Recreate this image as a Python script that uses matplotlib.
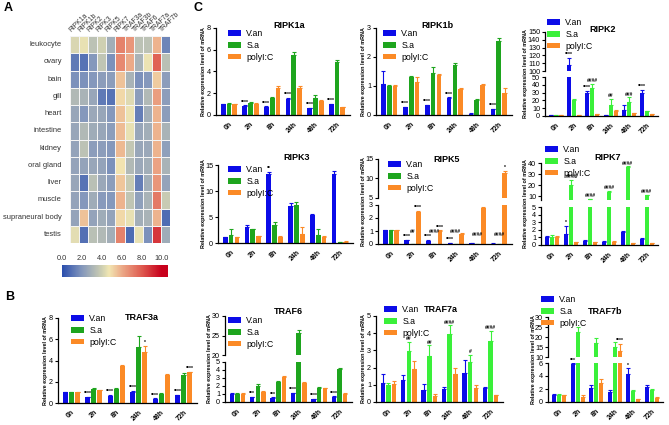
import numpy as np
import matplotlib
matplotlib.use('Agg')
import matplotlib.pyplot as plt
from matplotlib.colors import LinearSegmentedColormap
from matplotlib.patches import Patch

plt.rcParams['font.family'] = ['Liberation Sans', 'DejaVu Sans']

# ---------------- data ----------------
tissues = ['leukocyte', 'ovary', 'bain', 'gill', 'heart', 'intestine', 'kidney',
           'oral gland', 'liver', 'muscle', 'supraneural body', 'testis']
genes = ['RIPK1a', 'RIPK1b', 'RIPK2', 'RIPK3', 'RIPK5', 'RIPK7',
         'TRAF3a', 'TRAF3b', 'TRAF6', 'TRAF7a', 'TRAF7b']
heat_values = [
    [4.2, 4.5, 3.5, 4.0, 2.8, 7.0, 6.5, 3.5, 3.5, 5.8, 1.5],
    [1.2, 1.0, 2.0, 3.6, 1.8, 6.8, 6.0, 3.0, 4.6, 7.8, 3.4],
    [1.8, 1.8, 2.0, 2.2, 2.2, 5.5, 3.0, 1.8, 2.0, 5.3, 2.2],
    [3.2, 3.0, 2.5, 1.2, 1.0, 5.0, 4.3, 2.2, 3.2, 6.3, 2.2],
    [2.5, 2.0, 2.6, 2.5, 2.0, 5.5, 4.6, 1.3, 2.8, 5.8, 2.2],
    [2.5, 3.2, 2.7, 2.5, 2.2, 5.6, 4.5, 2.5, 2.8, 5.8, 3.0],
    [2.4, 3.5, 2.2, 2.2, 2.0, 5.7, 3.7, 2.5, 2.6, 5.8, 2.3],
    [2.4, 2.4, 2.5, 2.4, 1.8, 4.8, 3.2, 2.6, 2.8, 6.2, 3.0],
    [2.5, 1.0, 3.4, 2.6, 2.2, 5.4, 3.8, 1.3, 2.8, 6.5, 2.4],
    [2.4, 2.0, 2.7, 2.1, 2.0, 5.8, 3.6, 2.3, 3.0, 7.2, 3.8],
    [2.4, 5.5, 2.4, 2.7, 2.4, 5.0, 4.5, 2.8, 3.0, 5.8, 0.8],
    [4.4, 0.9, 3.4, 3.2, 2.8, 7.0, 0.8, 4.5, 1.8, 8.8, 2.7],
]
colorbar_ticks = [0.0, 2.0, 4.0, 6.0, 8.0, 10.0]

groups = ['0h', '2h', '8h', '24h', '48h', '72h']
series_names = ['V.an', 'S.a', 'polyI:C']

ripk1a_van = [1.0, 0.83, 0.77, 1.5, 0.6, 0.98]
ripk1a_van_err = [0.05, 0.05, 0.04, 0.06, 0.05, 0.05]
ripk1a_sa = [1.0, 1.14, 1.6, 5.5, 1.6, 4.9]
ripk1a_sa_err = [0.08, 0.06, 0.1, 0.3, 0.25, 0.2]
ripk1a_pic = [1.0, 1.05, 2.46, 2.52, 1.32, 0.7]
ripk1a_pic_err = [0.05, 0.05, 0.2, 0.15, 0.06, 0.05]
ripk1a_ann = [(1, 0, '****'), (2, 0, '****'), (3, 0, '****'), (4, 0, '****'), (5, 0, '****')]

ripk1b_van = [1.07, 0.27, 0.34, 0.58, 0.05, 0.2]
ripk1b_van_err = [0.45, 0.02, 0.02, 0.03, 0.01, 0.02]
ripk1b_sa = [1.0, 1.3, 1.45, 1.74, 0.52, 2.56]
ripk1b_sa_err = [0.05, 0.05, 0.2, 0.07, 0.03, 0.1]
ripk1b_pic = [1.0, 1.15, 1.38, 0.9, 1.05, 0.76]
ripk1b_pic_err = [0.03, 0.15, 0.02, 0.03, 0.03, 0.17]
ripk1b_ann = [(1, 0, '****'), (2, 0, '****'), (3, 0, '****'), (5, 0, '****')]

ripk2_van = [1.0, 108, 29.5, 1.5, 8, 30]
ripk2_van_err = [0.3, 9, 2.5, 0.3, 6, 3.5]
ripk2_sa = [1.5, 20.5, 36, 14, 17.5, 6]
ripk2_sa_err = [0.3, 1.5, 5, 8, 6.5, 0.8]
ripk2_pic = [1.0, 1.0, 2.5, 6.5, 4, 2.5]
ripk2_pic_err = [0.2, 0.2, 0.3, 0.8, 0.4, 0.4]
ripk2_ann = [(1, 0, '****'), (2, 0, '****'), (2, 1, '####'), (3, 1, '##'), (4, 1, '###'), (5, 0, '****')]

ripk3_van = [1.1, 3.1, 13.3, 7.2, 5.3, 13.3]
ripk3_van_err = [0.1, 0.3, 0.4, 0.5, 0.25, 0.5]
ripk3_sa = [1.6, 2.6, 3.5, 7.3, 1.6, 0.1]
ripk3_sa_err = [1.1, 0.1, 0.6, 0.6, 1.0, 0.02]
ripk3_pic = [1.1, 1.3, 1.2, 1.8, 1.1, 0.25]
ripk3_pic_err = [0.05, 0.1, 0.15, 1.3, 0.3, 0.05]
ripk3_ann = [(2, 0, '**')]

ripk5_van = [1.05, 0.27, 0.25, 0.08, 0.05, 0.03]
ripk5_van_err = [0.05, 0.05, 0.05, 0.02, 0.01, 0.01]
ripk5_sa = [1.05, 0.02, 0.02, 0.02, 0.01, 0.02]
ripk5_sa_err = [0.06, 0, 0, 0, 0, 0]
ripk5_pic = [1.05, 2.45, 1.0, 0.8, 2.8, 11.5]
ripk5_pic_err = [0.04, 0.12, 0.05, 0.05, 0.08, 0.4]
ripk5_ann = [(1, 0, '****'), (1, 1, '##', 0.7), (1, 2, '****'), (2, 0, '****'), (2, 1, '####', 0.7),
             (2, 2, '****'), (3, 0, '****'), (3, 1, '####', 0.7), (4, 1, '####', 0.5),
             (5, 1, '####', 0.5), (5, 2, '*')]

ripk7_van = [1.05, 1.5, 0.55, 0.45, 1.7, 0.85]
ripk7_van_err = [0.15, 1.0, 0.05, 0.05, 0.1, 0.08]
ripk7_sa = [1.1, 20, 7.0, 14, 36, 10.5]
ripk7_sa_err = [0.25, 5, 0.5, 0.8, 1.0, 0.8]
ripk7_pic = [1.05, 0.4, 0.35, 0.45, 0.2, 0.2]
ripk7_pic_err = [0.1, 0.04, 0.05, 0.05, 0.03, 0.03]
ripk7_ann = [(1, 0, '*'), (1, 1, '####'), (2, 1, '####'), (3, 1, '####'), (4, 1, '####'), (5, 1, '####')]

traf3a_van = [1.0, 0.56, 0.7, 1.07, 0.4, 0.75]
traf3a_van_err = [0.05, 0.05, 0.05, 0.05, 0.03, 0.05]
traf3a_sa = [1.0, 1.35, 1.35, 5.3, 0.85, 2.6]
traf3a_sa_err = [0.03, 0.05, 0.05, 1.05, 0.05, 0.2]
traf3a_pic = [1.0, 1.2, 3.5, 4.8, 2.6, 2.9]
traf3a_pic_err = [0.02, 0.05, 0.05, 0.6, 0.15, 0.05]
traf3a_ann = [(1, 0, '****'), (2, 0, '****'), (3, 0, '****'), (4, 0, '****'), (5, 0, '****'),
              (3, 2, '*'), (5, 2, '****')]

traf6_van = [1.05, 0.6, 0.55, 1.1, 0.4, 0.65]
traf6_van_err = [0.05, 0.05, 0.04, 0.08, 0.03, 0.05]
traf6_sa = [1.05, 2.0, 2.55, 25.7, 1.7, 4.1]
traf6_sa_err = [0.05, 0.3, 0.08, 0.8, 0.15, 0.1]
traf6_pic = [1.05, 1.3, 3.1, 2.4, 1.7, 1.0]
traf6_pic_err = [0.03, 0.05, 0.15, 0.05, 0.08, 0.08]
traf6_ann = [(1, 0, '***'), (2, 0, '***'), (3, 0, '****'), (4, 0, '****'), (5, 0, '****')]

traf7a_van = [1.1, 1.3, 0.7, 0.75, 1.7, 0.8]
traf7a_van_err = [0.5, 0.25, 0.35, 0.1, 0.75, 0.05]
traf7a_sa = [1.0, 2.95, 2.7, 3.95, 2.35, 3.55]
traf7a_sa_err = [0.12, 0.55, 0.6, 0.5, 0.4, 0.6]
traf7a_pic = [1.05, 1.9, 0.35, 1.6, 0.8, 0.38]
traf7a_pic_err = [0.15, 0.5, 0.1, 0.4, 0.2, 0.02]
traf7a_ann = [(1, 1, '##'), (2, 1, '##'), (3, 1, '####'), (4, 1, '#'), (5, 1, '####')]

traf7b_van = [1.1, 5.8, 2.1, 1.6, 4.3, 2.25]
traf7b_van_err = [0.1, 0.15, 0.5, 0.2, 0.9, 0.35]
traf7b_sa = [1.1, 22.5, 16.8, 15, 1.7, 1.85]
traf7b_sa_err = [0.1, 2.7, 2.5, 2.5, 0.1, 0.15]
traf7b_pic = [1.1, 0.8, 2.95, 13, 0.5, 0.65]
traf7b_pic_err = [0.05, 0.3, 0.6, 3.5, 0.03, 0.05]
traf7b_ann = [(1, 0, '***'), (4, 0, '*'), (3, 2, '****')]

# ---------------- style ----------------
BLUE = '#0c0ce8'
DGREEN = '#1ea51e'
LGREEN = '#3af03a'
ORANGE = '#fb8a26'

W, H = 669, 425
fig = plt.figure(figsize=(W / 100, H / 100), dpi=100)


def rect(x0, x1, yt, yb):
    return [x0 / W, 1 - yb / H, (x1 - x0) / W, (yb - yt) / H]


# ---------------- panel A: heatmap ----------------
cmap = LinearSegmentedColormap.from_list('rb', [
    (0.0, '#2b4fae'), (0.2, '#8598bc'), (0.4, '#cfd0b2'), (0.47, '#f2e7b3'),
    (0.6, '#ecaa88'), (0.8, '#df5b50'), (1.0, '#c8001c')])

axh = fig.add_axes(rect(70, 170, 36, 243))
hv = np.array(heat_values)
axh.pcolormesh(np.arange(len(genes) + 1), np.arange(len(tissues) + 1), hv,
               cmap=cmap, vmin=0, vmax=10, edgecolors='#f4f4f4', linewidth=0.6)
axh.set_xlim(0, len(genes))
axh.set_ylim(len(tissues), 0)
axh.set_xticks([])
axh.set_yticks([])
for s in axh.spines.values():
    s.set_visible(False)
for j, g in enumerate(genes):
    axh.text(j + 0.3, -0.15, g, rotation=45, rotation_mode='anchor', ha='left', va='bottom',
             fontsize=4.9, color='#333333')
for i, t in enumerate(tissues):
    axh.text(-0.9, i + 0.5, t, ha='right', va='center', fontsize=5.4, color='#333333')

axc = fig.add_axes(rect(62, 168, 265, 277))
grad = np.linspace(0, 10.6, 300).reshape(1, -1)
axc.imshow(grad, aspect='auto', cmap=cmap, vmin=0, vmax=10, extent=[0, 10.6, 0, 1])
axc.set_xlim(0, 10.6)
axc.set_yticks([])
axc.set_xticks(colorbar_ticks)
axc.set_xticklabels(['%.1f' % v for v in colorbar_ticks], fontsize=5.3, color='#333333')
axc.xaxis.tick_top()
axc.tick_params(axis='x', length=0, pad=2)
for s in axc.spines.values():
    s.set_visible(False)

# ---------------- bar panels ----------------
YLABEL = 'Relative expression level of mRNA'


def style_axis(ax, bottom=True):
    for s in ['top', 'right']:
        ax.spines[s].set_visible(False)
    ax.spines['left'].set_linewidth(0.9)
    ax.spines['bottom'].set_linewidth(0.9)
    ax.tick_params(axis='y', length=2.5, width=0.8, labelsize=5.2, pad=1)
    ax.set_xlim(-0.6, 5.6)
    if bottom:
        ax.set_xticks(np.arange(len(groups)))
        ax.set_xticklabels(groups, rotation=45, ha='right', rotation_mode='anchor',
                           fontsize=5, fontweight='bold')
        ax.tick_params(axis='x', length=0, pad=4)
    else:
        ax.spines['bottom'].set_visible(False)
        ax.set_xticks([])


def bar_panel(x0, x1, segs, vals, errs, colors, ann, title, title_xy, leg_xy):
    axes = []
    maxlen = 1
    for k, (yt, yb, ylim, ticks) in enumerate(segs):
        ax = fig.add_axes(rect(x0, x1, yt, yb))
        axes.append(ax)
        ax.set_ylim(*ylim)
        ax.set_yticks(ticks)
        maxlen = max(maxlen, max(len(str(t)) for t in ticks))
        style_axis(ax, bottom=(k == len(segs) - 1))
    x = np.arange(len(groups))
    offs = [-0.27, 0.0, 0.27]
    wdt = 0.22
    for ax in axes:
        for k in range(3):
            ax.bar(x + offs[k], vals[k], wdt, color=colors[k], linewidth=0)
            ax.errorbar(x + offs[k], vals[k], yerr=[np.zeros(len(groups)), errs[k]], fmt='none',
                        ecolor=colors[k], elinewidth=0.8, capsize=1.3, capthick=0.8)
    for a in ann:
        gi, si, txt = a[0], a[1], a[2]
        y = a[3] if len(a) > 3 else vals[si][gi] + errs[si][gi]
        for ax, (yt, yb, ylim, ticks) in zip(axes, segs):
            if ylim[0] <= y <= ylim[1] * 1.02:
                ax.annotate(txt, (gi + offs[si], y), xytext=(0, 0.5), textcoords='offset points',
                            ha='center', va='bottom', fontsize=3.6, fontweight='bold')
                break
    ytop = segs[0][0]
    ybot = segs[-1][1]
    off = {1: 12, 2: 15, 3: 19}[maxlen]
    fig.text((x0 - off) / W, 1 - (ytop + ybot) / 2 / H, YLABEL, rotation=90, ha='center',
             va='center', fontsize=3.9, fontweight='bold')
    fig.text(title_xy[0] / W, 1 - title_xy[1] / H, title, ha='center', va='center',
             fontsize=6.5, fontweight='bold')
    handles = [Patch(facecolor=c, edgecolor='none') for c in colors]
    fig.legend(handles, series_names, loc='upper left',
               bbox_to_anchor=(leg_xy[0] / W, 1 - leg_xy[1] / H), frameon=False,
               fontsize=6.3, handlelength=1.5, handleheight=0.65, handletextpad=0.6,
               labelspacing=0.32, borderpad=0, borderaxespad=0)
    return axes


cd = [BLUE, DGREEN, ORANGE]
cl = [BLUE, LGREEN, ORANGE]

bar_panel(216, 350, [(28, 115, (0, 8), [0, 2, 4, 6, 8])],
          [ripk1a_van, ripk1a_sa, ripk1a_pic], [ripk1a_van_err, ripk1a_sa_err, ripk1a_pic_err],
          cd, ripk1a_ann, 'RIPK1a', (289, 26), (228, 29))
bar_panel(376, 512, [(28, 115, (0, 3), [0, 1, 2, 3])],
          [ripk1b_van, ripk1b_sa, ripk1b_pic], [ripk1b_van_err, ripk1b_sa_err, ripk1b_pic_err],
          cd, ripk1b_ann, 'RIPK1b', (437, 26), (383, 29))
bar_panel(545, 658, [(32, 71, (100, 150), [100, 110, 120, 130, 140, 150]),
                     (77, 116, (0, 50), [0, 10, 20, 30, 40, 50])],
          [ripk2_van, ripk2_sa, ripk2_pic], [ripk2_van_err, ripk2_sa_err, ripk2_pic_err],
          cl, ripk2_ann, 'RIPK2', (603, 29), (547, 18))
bar_panel(218, 353, [(165, 243, (0, 15), [0, 5, 10, 15])],
          [ripk3_van, ripk3_sa, ripk3_pic], [ripk3_van_err, ripk3_sa_err, ripk3_pic_err],
          cd, ripk3_ann, 'RIPK3', (297, 157), (228, 165))
bar_panel(378, 512, [(159, 198, (5, 15), [5, 10, 15]), (205, 244, (0, 3), [0, 1, 2, 3])],
          [ripk5_van, ripk5_sa, ripk5_pic], [ripk5_van_err, ripk5_sa_err, ripk5_pic_err],
          cd, ripk5_ann, 'RIPK5', (447, 159), (388, 160))
bar_panel(541, 658, [(163, 200, (6.4, 40), [10, 20, 30, 40]), (207, 245, (0, 5), [0, 1, 2, 3, 4, 5])],
          [ripk7_van, ripk7_sa, ripk7_pic], [ripk7_van_err, ripk7_sa_err, ripk7_pic_err],
          cl, ripk7_ann, 'RIPK7', (608, 157), (545, 145))
bar_panel(58, 197, [(318, 403, (0, 8), [0, 2, 4, 6, 8])],
          [traf3a_van, traf3a_sa, traf3a_pic], [traf3a_van_err, traf3a_sa_err, traf3a_pic_err],
          cd, traf3a_ann, 'TRAF3a', (142, 317), (71, 314))
bar_panel(225, 352, [(316, 355, (20, 30), [20, 25, 30]), (362, 402, (0, 5), [0, 1, 2, 3, 4, 5])],
          [traf6_van, traf6_sa, traf6_pic], [traf6_van_err, traf6_sa_err, traf6_pic_err],
          cd, traf6_ann, 'TRAF6', (288, 311), (228, 316))
bar_panel(376, 503, [(316, 402, (0, 5), [0, 1, 2, 3, 4, 5])],
          [traf7a_van, traf7a_sa, traf7a_pic], [traf7a_van_err, traf7a_sa_err, traf7a_pic_err],
          cl, traf7a_ann, 'TRAF7a', (441, 310), (384, 305))
bar_panel(548, 663, [(317, 357, (10, 30), [10, 15, 20, 25, 30]), (363, 402, (0, 6), [0, 2, 4, 6])],
          [traf7b_van, traf7b_sa, traf7b_pic], [traf7b_van_err, traf7b_sa_err, traf7b_pic_err],
          cl, traf7b_ann, 'TRAF7b', (605, 311), (541, 295))

# panel letters
fig.text(8 / W, 1 - 8 / H, 'A', fontsize=9, fontweight='bold', ha='center', va='center')
fig.text(198 / W, 1 - 8 / H, 'C', fontsize=9, fontweight='bold', ha='center', va='center')
fig.text(10 / W, 1 - 297 / H, 'B', fontsize=9, fontweight='bold', ha='center', va='center')

fig.savefig('out.png', dpi=100)
